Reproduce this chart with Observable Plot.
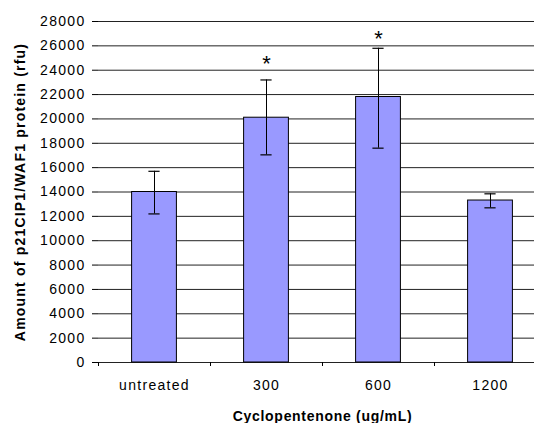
<!DOCTYPE html>
<html>
<head>
<meta charset="utf-8">
<script src="https://cdn.jsdelivr.net/npm/d3@7"></script>
<script src="https://cdn.jsdelivr.net/npm/@observablehq/plot@0.6"></script>
<style>
  html, body { margin: 0; padding: 0; background: #fff; overflow: hidden; }
  .ticklab text { letter-spacing: 1.3px; }
  .xtitle text { letter-spacing: 0.7px; }
  .ytitle text { letter-spacing: 1.2px; }
</style>
</head>
<body>
<div id="chart"></div>
<script>
const categories = ["untreated", "300", "600", "1200"];
const values = [14000, 20100, 21800, 13300];
const errLow = [12200, 17050, 17600, 12700];
const errHigh = [15700, 23200, 25800, 13850];
const stars = [null, 24900, 27000, null];
const yTicks = [0, 2000, 4000, 6000, 8000, 10000, 12000, 14000, 16000, 18000, 20000, 22000, 24000, 26000, 28000];
const xTitle = "Cyclopentenone (ug/mL)";
const yTitle = "Amount of p21CIP1/WAF1 protein (rfu)";

const data = categories.map((c, i) => ({
  i, cat: c, value: values[i], lo: errLow[i], hi: errHigh[i], star: stars[i]
}));
const boundaries = d3.range(categories.length + 1).map(k => k - 0.5);

const chart = Plot.plot({
  width: 534,
  height: 423,
  marginLeft: 98,
  marginRight: -12,
  marginTop: 21,
  marginBottom: 61,
  style: { fontFamily: "'Liberation Sans', Arial, sans-serif", fontSize: "14px", background: "#fff", color: "#000" },
  x: { type: "linear", domain: [-0.5, categories.length - 0.5] },
  y: { domain: [0, 28000] },
  marks: [
    Plot.ruleY(yTicks, { stroke: "#222", strokeWidth: 1 }),
    Plot.rectY(data, { x1: d => d.i - 0.2, x2: d => d.i + 0.2, y: "value", fill: "#9999FF", stroke: "#000", strokeWidth: 1 }),
    Plot.ruleX(data, { x: "i", y1: "lo", y2: "hi", stroke: "#000", strokeWidth: 1 }),
    Plot.ruleY(data, { x1: d => d.i - 0.05, x2: d => d.i + 0.05, y: "hi", stroke: "#000", strokeWidth: 1.2 }),
    Plot.ruleY(data, { x1: d => d.i - 0.05, x2: d => d.i + 0.05, y: "lo", stroke: "#000", strokeWidth: 1.2 }),
    Plot.text(data.filter(d => d.star != null), { x: "i", y: "star", text: () => "*", fontSize: 22, lineAnchor: "middle", dy: 5 }),
    Plot.axisY({ ticks: yTicks, tickFormat: d3.format("d"), tickSize: 6, tickPadding: 7, line: true, label: null, className: "ticklab" }),
    Plot.axisX({ ticks: boundaries, tickFormat: () => "", tickSize: 4, line: true, label: null }),
    Plot.axisX({ ticks: d3.range(categories.length), tickFormat: k => categories[k], tickSize: 0, tickPadding: 18, label: null, className: "ticklab" }),
    Plot.text([xTitle], { frameAnchor: "bottom", textAnchor: "middle", dy: 58, text: d => d, fontWeight: "bold", fontSize: 14, lineAnchor: "bottom", className: "xtitle" }),
    Plot.text([yTitle], { frameAnchor: "left", textAnchor: "middle", dx: -74, rotate: -90, text: d => d, fontWeight: "bold", fontSize: 14, lineAnchor: "bottom", className: "ytitle" })
  ]
});
document.getElementById("chart").appendChild(chart);
</script>
</body>
</html>
